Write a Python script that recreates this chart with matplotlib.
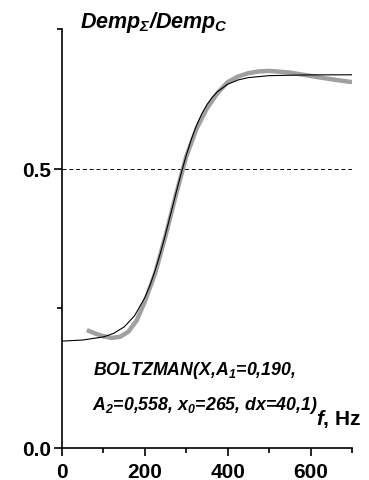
import numpy as np
import matplotlib
matplotlib.use("Agg")
import matplotlib.pyplot as plt
from matplotlib.ticker import MultipleLocator

plt.rcParams['font.family'] = ['Liberation Sans', 'DejaVu Sans']
plt.rcParams['mathtext.fontset'] = 'custom'
plt.rcParams['mathtext.rm'] = 'Liberation Sans:bold:italic'
plt.rcParams['mathtext.it'] = 'Liberation Sans:bold:italic'
plt.rcParams['mathtext.bf'] = 'Liberation Sans:bold:italic'

# measured ratio (grey curve)
f_meas = [60, 80, 100, 120, 140, 160, 180, 200, 225, 250, 275, 300, 325, 350,
          375, 400, 425, 450, 475, 500, 550, 600, 650, 700]
r_meas = [0.211, 0.205, 0.200, 0.197, 0.199, 0.208, 0.228, 0.262, 0.313, 0.380,
          0.453, 0.522, 0.572, 0.608, 0.635, 0.655, 0.665, 0.671, 0.674, 0.675,
          0.672, 0.666, 0.660, 0.655]

# Boltzmann fit (black curve)
f_fit = [0, 50, 100, 125, 150, 175, 200, 212.5, 225, 237.5, 250, 262.5, 275,
         287.5, 300, 312.5, 325, 337.5, 350, 362.5, 375, 400, 425, 450, 500,
         600, 700]
r_fit = [0.1913, 0.1933, 0.1988, 0.2053, 0.2167, 0.2366, 0.2692, 0.2915, 0.3181,
         0.3489, 0.3830, 0.4192, 0.4559, 0.4913, 0.5241, 0.5531, 0.5779, 0.5983,
         0.6148, 0.6277, 0.6377, 0.6512, 0.6588, 0.6630, 0.6665, 0.6679, 0.6680]

fig = plt.figure(figsize=(3.69, 4.81), dpi=100)
ax = fig.add_axes([62/369, 32/481, 290/369, 419/481])

ax.axhline(0.5, color='black', lw=0.7, ls=(0, (4, 3)))
ax.plot(f_meas, r_meas, color='#a0a0a0', lw=3.2, solid_capstyle='butt')
ax.plot(f_fit, r_fit, color='black', lw=0.8)

ax.set_xlim(0, 700)
ax.set_ylim(0, 0.75)
ax.set_xticks([0, 200, 400, 600])
ax.set_yticks([0.0, 0.5])
ax.set_yticklabels(['0.0', '0.5'])
ax.xaxis.set_minor_locator(MultipleLocator(100))
ax.yaxis.set_minor_locator(MultipleLocator(0.25))
ax.tick_params(which='major', length=6, width=1.2, labelsize=15, direction='out')
ax.tick_params(which='minor', length=3.5, width=1.2, direction='out')
ax.tick_params(axis='x', pad=4)
ax.tick_params(axis='y', pad=2)
for lab in ax.get_xticklabels() + ax.get_yticklabels():
    lab.set_fontweight('bold')

for s in ['top', 'right']:
    ax.spines[s].set_visible(False)
for s in ['left', 'bottom']:
    ax.spines[s].set_linewidth(1.2)

fig.text(80/369, 1 - 28/481, r'$Demp_{Σ}/Demp_{C}$', fontsize=15.5, ha='left', va='baseline')

ax.text(0.107, 0.177, 'BOLTZMAN(X,A$_1$=0,190,', transform=ax.transAxes,
        fontsize=12.8, fontweight='bold', fontstyle='italic', ha='left', va='baseline')
ax.text(0.103, 0.093, 'A$_2$=0,558, x$_0$=265, dx=40,1)', transform=ax.transAxes,
        fontsize=12.8, fontweight='bold', fontstyle='italic', ha='left', va='baseline')
ax.text(0.877, 0.057, '$f$, Hz', transform=ax.transAxes,
        fontsize=15, fontweight='bold', ha='left', va='baseline')

fig.savefig('out.png', dpi=100)
